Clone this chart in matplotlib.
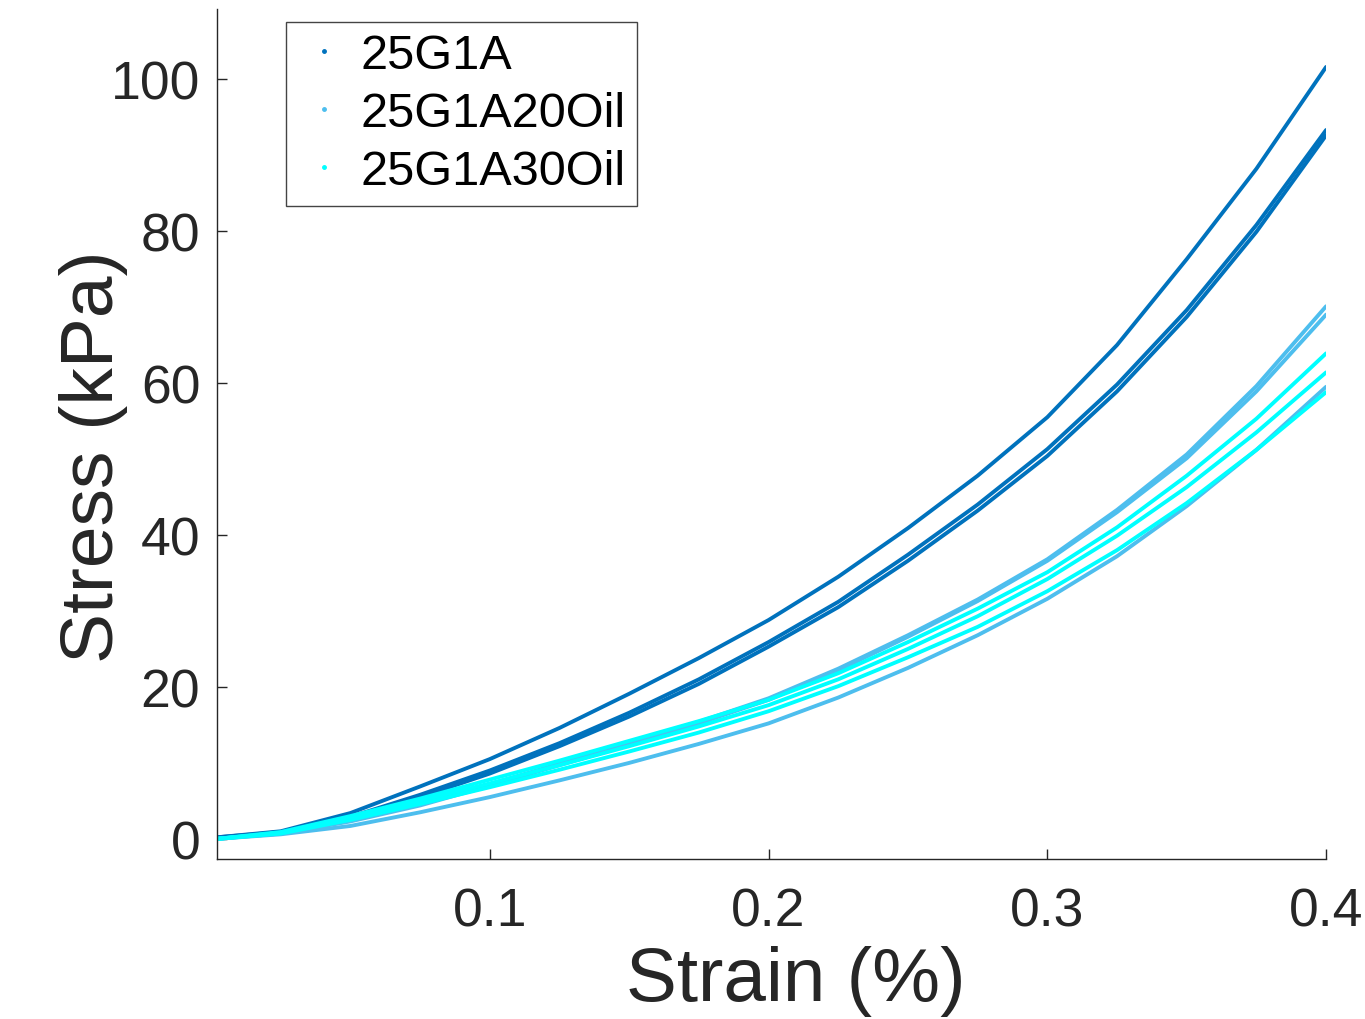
import matplotlib
matplotlib.use("Agg")
import matplotlib.pyplot as plt
from matplotlib.lines import Line2D

plt.rcParams['font.family'] = ['Liberation Sans', 'DejaVu Sans']

strain = [0.002, 0.025, 0.05, 0.075, 0.1, 0.125, 0.15, 0.175, 0.2,
          0.225, 0.25, 0.275, 0.3, 0.325, 0.35, 0.375, 0.4]

# 25G1A samples (kPa)
g1a_1 = [0.2, 1.0, 3.4, 6.9, 10.5, 14.6, 19.1, 23.8, 28.8,
         34.5, 40.9, 47.8, 55.5, 65.0, 76.3, 88.2, 101.6]
g1a_2 = [0.2, 0.9, 2.9, 5.8, 9.0, 12.6, 16.6, 21.0, 25.9,
         31.2, 37.4, 44.0, 51.3, 59.8, 69.6, 80.8, 93.3]
g1a_3 = [0.1, 0.8, 2.7, 5.5, 8.6, 12.2, 16.1, 20.4, 25.3,
         30.5, 36.6, 43.2, 50.4, 58.9, 68.7, 79.9, 92.6]

# 25G1A20Oil samples
oil20_1 = [0.0, 0.8, 2.4, 4.6, 7.2, 9.9, 12.6, 15.4, 18.5,
           22.4, 26.8, 31.5, 36.8, 43.3, 50.6, 59.6, 70.1]
oil20_2 = [0.0, 0.7, 2.3, 4.4, 7.0, 9.7, 12.4, 15.2, 18.3,
           22.2, 26.6, 31.3, 36.6, 43.0, 50.1, 58.9, 69.0]
oil20_3 = [0.0, 0.6, 1.7, 3.5, 5.5, 7.7, 10.0, 12.5, 15.2,
           18.6, 22.5, 26.8, 31.6, 37.2, 43.8, 51.2, 59.5]

# 25G1A30Oil samples
oil30_1 = [0.0, 0.9, 3.0, 5.3, 7.8, 10.3, 12.9, 15.5, 18.3,
           21.8, 25.9, 30.3, 35.1, 41.0, 47.8, 55.3, 63.9]
oil30_2 = [0.0, 0.8, 2.8, 5.0, 7.3, 9.7, 12.2, 14.8, 17.6,
           21.0, 25.0, 29.3, 34.2, 39.9, 46.3, 53.5, 61.4]
oil30_3 = [0.0, 0.7, 2.5, 4.6, 6.8, 9.1, 11.5, 14.0, 16.8,
           20.1, 23.9, 27.9, 32.6, 38.0, 44.2, 51.2, 58.8]

labels = ['25G1A', '25G1A20Oil', '25G1A30Oil']
colors = ['#0072BD', '#4DBEEE', '#00FFFF']
groups = [[g1a_1, g1a_2, g1a_3],
          [oil20_1, oil20_2, oil20_3],
          [oil30_1, oil30_2, oil30_3]]

dark = '#262626'

fig = plt.figure(figsize=(13.65, 10.2), dpi=100)
ax = fig.add_axes([0.159, 0.157, 0.8125, 0.833])

for grp, c in zip(groups, colors):
    for s in grp:
        ax.plot(strain, s, color=c, linewidth=2.8, solid_capstyle='round',
                solid_joinstyle='round')

ax.set_xlim(0.00215, 0.4)
ax.set_ylim(-2.63, 109.2)
ax.set_xticks([0.1, 0.2, 0.3, 0.4])
ax.set_xticklabels(['0.1', '0.2', '0.3', '0.4'])
ax.set_yticks([0, 20, 40, 60, 80, 100])

for side in ['top', 'right']:
    ax.spines[side].set_visible(False)
for side in ['left', 'bottom']:
    ax.spines[side].set_color(dark)
    ax.spines[side].set_linewidth(1.0)

ax.tick_params(axis='both', direction='in', length=7, width=1.0,
               color=dark, labelcolor=dark, labelsize=38.5)
ax.tick_params(axis='x', pad=20)
ax.tick_params(axis='y', pad=12)

ax.set_xlabel('Strain (%)', fontsize=55, color=dark)
ax.set_ylabel('Stress (kPa)', fontsize=54, color=dark)
ax.xaxis.set_label_coords(0.522, -0.101)
ax.yaxis.set_label_coords(-0.08, 0.475)

handles = [Line2D([], [], color=c, marker='.', markersize=5, linestyle='none')
           for c in colors]
leg = ax.legend(handles, labels, loc='upper left', bbox_to_anchor=(0.0622, 0.985),
                fontsize=35, frameon=True, fancybox=False, framealpha=1,
                edgecolor='#444444', borderpad=0.23, labelspacing=0.27,
                handlelength=1.1, handletextpad=0.2, borderaxespad=0)
leg.get_frame().set_linewidth(1.0)

fig.savefig('out.png', dpi=100)
